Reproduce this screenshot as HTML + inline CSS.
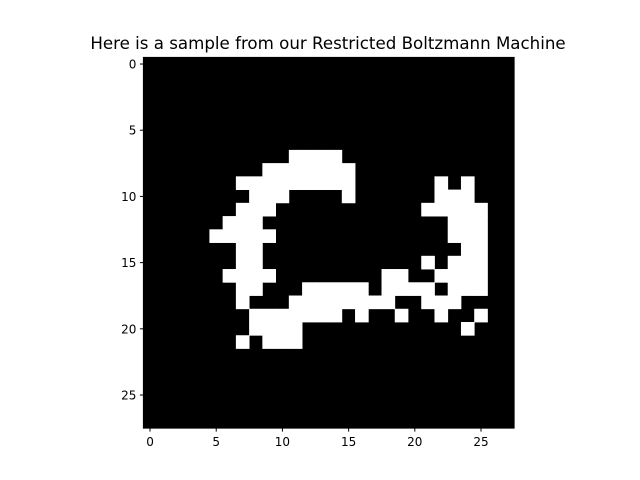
<!DOCTYPE html>
<html><head><meta charset="utf-8"><style>
body{margin:0;background:#fff;}
svg{display:block;font-family:"DejaVu Sans","Liberation Sans",sans-serif;}
</style></head><body>
<svg id="chart" width="640" height="480">
<rect width="640" height="480" fill="#fff"/>
<text x="328" y="49" font-size="16.67" text-anchor="middle">Here is a sample from our Restricted Boltzmann Machine</text>
<g id="plot"></g>
</svg>
<script>
const rowsData = [
"............................",
"............................",
"............................",
"............................",
"............................",
"............................",
"............................",
"...........####.............",
".........#######............",
".......#########......#.#...",
"........###....#......###...",
".......###...........#####..",
"......###..............###..",
".....#####.............###..",
".......##...............##..",
".......##............#.###..",
"......####........##..####..",
".......##...#####.####.###..",
".......#...########..###....",
"........#######.#..#..#..#..",
"........####............#...",
".......#.###................",
"............................",
"............................",
"............................",
"............................",
"............................",
"............................"
];
const xTicks = [0,5,10,15,20,25];
const yTicks = [0,5,10,15,20,25];
const NS='http://www.w3.org/2000/svg';
const L=143.4,T=57.4,C=13.24,N=28;
const sx=c=>L+c*C, sy=r=>T+r*C;
const g=document.getElementById('plot');
function mk(t,a){const e=document.createElementNS(NS,t);for(const k in a)e.setAttribute(k,a[k]);g.appendChild(e);return e;}
const bg=mk('rect',{x:L,y:T,width:N*C,height:N*C,fill:'#000'});


rowsData.forEach((row,r)=>{for(let c=0;c<row.length;c++){if(row[c]==='#'){
const p=mk('rect',{x:sx(c)-0.2,y:sy(r)-0.2,width:C+0.4,height:C+0.4,fill:'#fff'});


}}});
const fr=mk('rect',{x:L,y:T,width:N*C,height:N*C,fill:'none',stroke:'#000','stroke-width':1});


xTicks.forEach(v=>{const x=sx(v)+C/2;
const l=mk('line',{x1:x,x2:x,y1:T+N*C,y2:T+N*C+3.5,stroke:'#000'});


const t=mk('text',{x:x,y:T+N*C+18,'font-size':12,'text-anchor':'middle'});t.textContent=v;

});
yTicks.forEach(v=>{const y=sy(v)+C/2;
const l=mk('line',{x1:L-3.5,x2:L,y1:y,y2:y,stroke:'#000'});


const t=mk('text',{x:L-7,y:y+4.5,'font-size':12,'text-anchor':'end'});t.textContent=v;

});
</script>
</body></html>
